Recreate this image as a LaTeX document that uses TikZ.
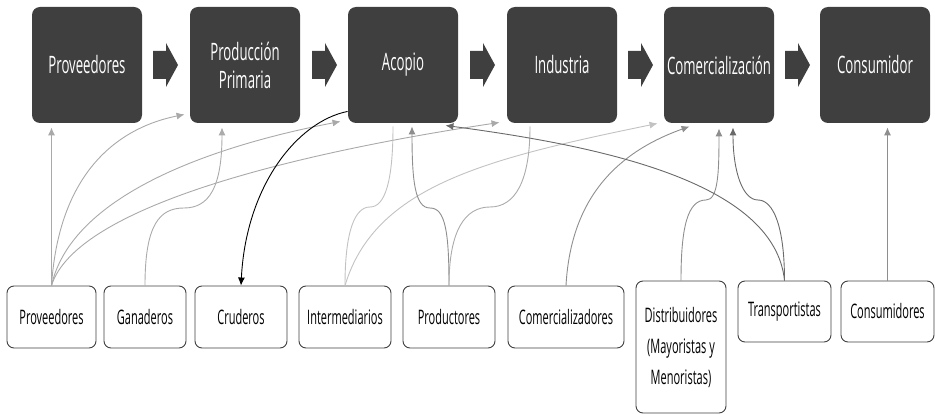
\documentclass[tikz,border=0pt]{standalone}
\usepackage{fontspec}
\setmainfont[FakeStretch=0.55]{Open Sans}
\usetikzlibrary{arrows.meta}

\definecolor{dunkel}{HTML}{3F3F3F}
\definecolor{rand}{HTML}{404040}
\definecolor{grauA}{HTML}{A9A9A9}
\definecolor{grauB}{HTML}{ABABAB}
\definecolor{grauC}{HTML}{C2C2C2}
\definecolor{grauD}{HTML}{8E8E8E}
\definecolor{grauE}{HTML}{6A6A6A}

\begin{document}
\begin{tikzpicture}[x=1pt,y=-1pt,>={Latex[length=8pt,width=7pt]},line width=0.9pt,
	stufe/.style={fill=dunkel,rounded corners=8pt,inner sep=0pt,minimum width=110pt,
		minimum height=116pt,text=white,align=center,font=\fontsize{24}{28}\selectfont},
	akteur/.style={draw=rand,fill=white,rounded corners=7pt,inner sep=0pt,minimum height=62pt,
		align=center,font=\fontsize{20}{31}\selectfont}]
	\useasboundingbox (0,0) rectangle (935,414);

	\node[stufe] (prov) at (87,65) {Proveedores};
	\node[stufe] (prod) at (245,65) {Producción\\Primaria};
	\node[stufe] (acop) at (403,65) {Acopio};
	\node[stufe] (indu) at (562,65) {Industria};
	\node[stufe] (come) at (719,65) {Comercialización};
	\node[stufe] (cons) at (875,65) {Consumidor};

	\def\pfeil#1{
		\fill[dunkel] (#1,51) -- ++(13,0) -- ++(0,-8) -- ++(12,22) -- ++(-12,22)
		-- ++(0,-8) -- ++(-13,0) -- cycle;
	}
	\pfeil{153}
	\pfeil{312}
	\pfeil{470}
	\pfeil{628}
	\pfeil{785}

	\node[akteur,minimum width=89pt] (bprov) at (51.5,317) {Proveedores};
	\node[akteur,minimum width=82pt] (gana) at (145,317) {Ganaderos};
	\node[akteur,minimum width=92pt] (crud) at (241,317) {Cruderos};
	\node[akteur,minimum width=92pt] (inter) at (345,317) {Intermediarios};
	\node[akteur,minimum width=92pt] (produ) at (449,317) {Productores};
	\node[akteur,minimum width=116pt] (comz) at (566,317) {Comercializadores};
	\node[akteur,minimum width=90pt,minimum height=132pt] (dist) at (681,347)
		{Distribuidores\\(Mayoristas y\\Menoristas)};
	\node[akteur,minimum width=93pt,minimum height=61pt] (trans) at (784.5,311.5) {Transportistas};
	\node[akteur,minimum width=93pt,minimum height=61pt] (consu) at (887.5,311.5) {Consumidores};

	\draw[grauA,->,shorten >=4pt] (bprov.north) -- (bprov.north |- prov.south);
	\draw[grauA,->] (bprov.north) .. controls +(8,-120) and +(-60,12)
		.. ([xshift=-5pt,yshift=9pt]prod.south west);
	\draw[grauA,->] (bprov.north) .. controls +(20,-90) and +(-130,25)
		.. ([xshift=-7pt,yshift=2pt]acop.south west);
	\draw[grauA,->] (bprov.north) .. controls +(25,-80) and +(-200,30)
		.. ([xshift=-7pt,yshift=1pt]indu.south west);
	\draw[grauB,->] (gana.north) .. controls +(0,-60) and +(-25,0) .. (184,208)
		.. controls +(25,0) and +(0,60) .. ([xshift=-23pt,yshift=-4pt]prod.south);

	\draw[black,->] ([yshift=12pt]acop.south west) .. controls +(-50,10) and +(5,-100) .. (crud.north);

	\draw[grauC] (inter.north) .. controls +(0,-55) and +(-15,0) .. (370,207)
		.. controls +(15,0) and +(0,55) .. ([xshift=-10pt,yshift=-3pt]acop.south);
	\draw[grauC,->] (inter.north) .. controls +(30,-100) and +(-170,35)
		.. ([xshift=-6pt]come.south west);
	\draw[grauD,->] (produ.north) .. controls +(0,-55) and +(15,0) .. (430,208)
		.. controls +(-15,0) and +(0,55) .. ([xshift=9pt,yshift=-3pt]acop.south);
	\draw[grauB] (produ.north) .. controls +(0,-55) and +(-25,0) .. (490,207)
		.. controls +(25,0) and +(0,55) .. ([xshift=-32pt,yshift=-3pt]indu.south);

	\draw[grauD,->] (comz.north) .. controls +(5,-90) and +(-70,25)
		.. ([xshift=26pt,yshift=-3pt]come.south west);
	\draw[grauD,->] (dist.north) .. controls +(0,-55) and +(-18,0) .. (706,200)
		.. controls +(12,0) and +(0,45) .. ([yshift=-5pt]come.south);
	\draw[grauE,->] (trans.north) .. controls +(0,-55) and +(15,0) .. (758,200)
		.. controls +(-15,0) and +(0,45) .. ([xshift=14pt,yshift=-4pt]come.south);
	\draw[grauE,->] (trans.north) .. controls +(-10,-100) and +(150,20)
		.. ([xshift=-13pt,yshift=-2pt]acop.south east);
	\draw[grauD,->,shorten >=4pt] (consu.north) -- (consu.north |- cons.south);
\end{tikzpicture}
\end{document}
